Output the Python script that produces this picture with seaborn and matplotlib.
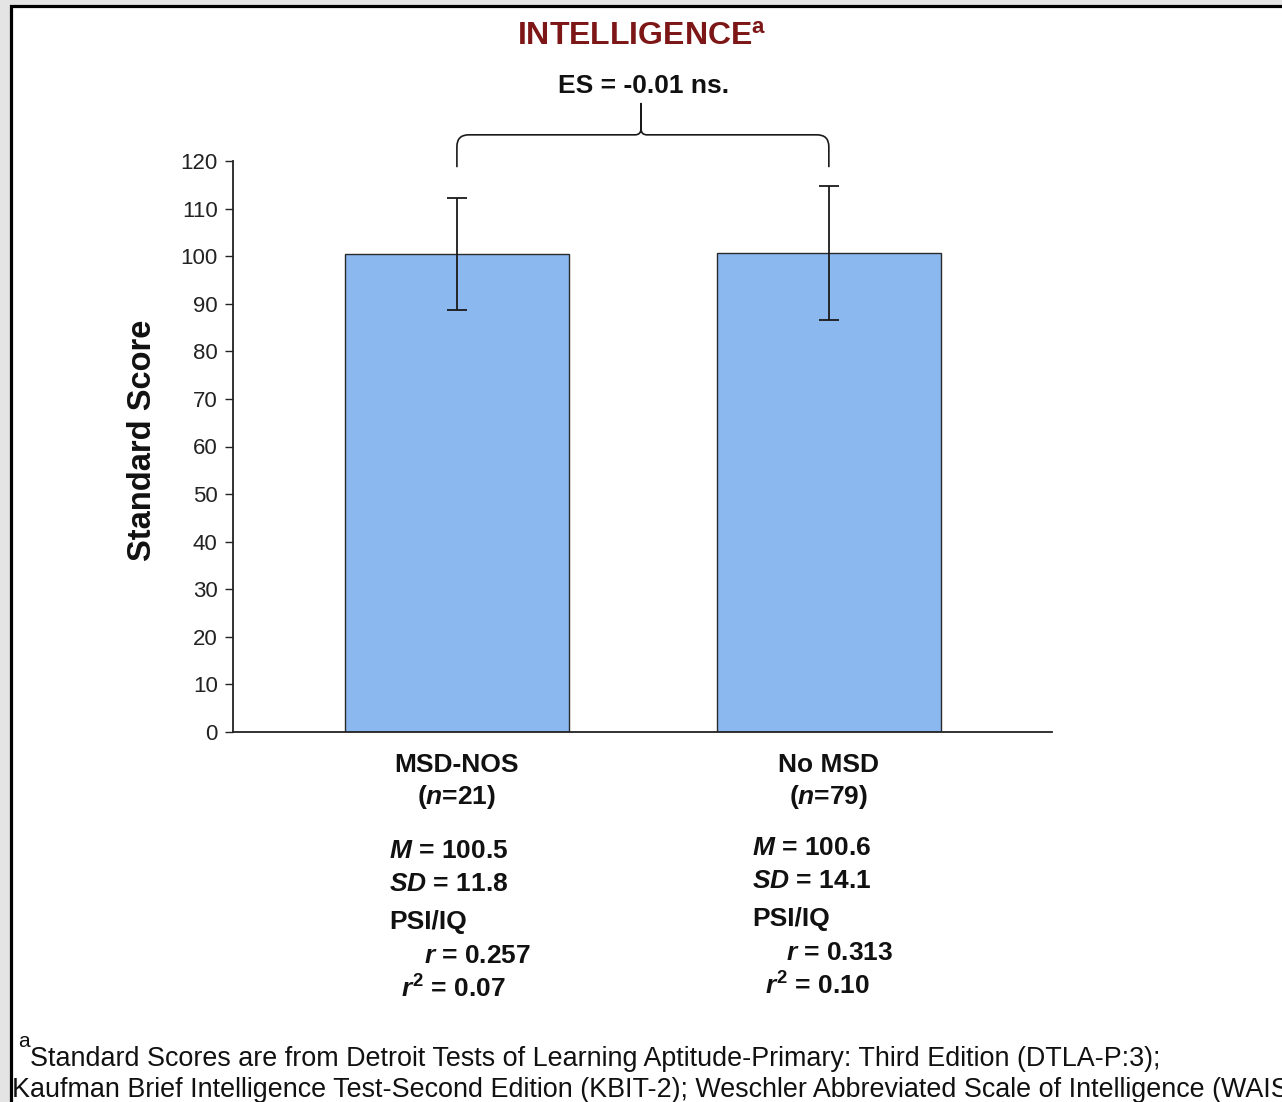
import matplotlib
matplotlib.use("Agg")
import matplotlib.pyplot as plt
import matplotlib.transforms as mtransforms
from matplotlib.path import Path
from matplotlib.patches import PathPatch, Rectangle
from matplotlib import font_manager
import pandas as pd
import seaborn as sns

# ---- data ----
groups = ["MSD-NOS", "No MSD"]
group_n = [21, 79]
means = [100.5, 100.6]
sds = [11.8, 14.1]
psi_iq_r = ["0.257", "0.313"]
psi_iq_r2 = ["0.07", "0.10"]
effect_size = "-0.01 ns."
y_ticks = list(range(0, 121, 10))
title = "INTELLIGENCE"
footnote_lines = [
    "Standard Scores are from Detroit Tests of Learning Aptitude-Primary: Third Edition (DTLA-P:3);",
    "Kaufman Brief Intelligence Test-Second Edition (KBIT-2); Weschler Abbreviated Scale of Intelligence (WAIS).",
]

# ---- style ----
sns.set_style("ticks")
plt.rcParams["font.family"] = ["Liberation Sans", "DejaVu Sans"]
plt.rcParams["mathtext.fontset"] = "custom"
plt.rcParams["mathtext.rm"] = "Liberation Sans:bold"
plt.rcParams["mathtext.bf"] = "Liberation Sans:bold"
plt.rcParams["mathtext.it"] = "Liberation Sans:bold:italic"

installed = {f.name for f in font_manager.fontManager.ttflist}
narrow = "Liberation Sans Narrow" if "Liberation Sans Narrow" in installed else None

BAR = "#8cb8f0"
TITLE_RED = "#7d1616"
INK = "#111111"

W, H = 1282, 1102
fig = plt.figure(figsize=(W / 100, H / 100), dpi=100, facecolor="#e4e4e4")

# white page with a dark frame on the top and left edges
fig.patches.append(Rectangle((11 / W, -0.05), 1.2, 1.05 - 6 / H,
                             transform=fig.transFigure, facecolor="white",
                             edgecolor="black", linewidth=2.3, zorder=-5))


def fy(py):
    return 1 - py / H


ax = fig.add_axes([233 / W, fy(732), (1052 - 233) / W, (732 - 161) / H])
ax.set_facecolor("none")

df = pd.DataFrame({"group": groups, "mean": means})
sns.barplot(data=df, x="group", y="mean", color=BAR, saturation=1,
            edgecolor="#2a2a2a", linewidth=1.0, width=0.602,
            errorbar=None, ax=ax)
ax.errorbar(range(len(groups)), means, yerr=sds, fmt="none",
            ecolor="#1a1a1a", elinewidth=1.3, capsize=7, capthick=1.3, zorder=4)

ax.set_xlim(-0.602, 1.6)
ax.set_ylim(0, 120)
ax.set_yticks(y_ticks)
ax.set_xlabel("")
ax.tick_params(axis="x", length=0, labelbottom=False)
ax.tick_params(axis="y", length=6, width=1.0, pad=5, labelsize=16,
               colors="#222222")
for side in ("top", "right"):
    ax.spines[side].set_visible(False)
for side in ("left", "bottom"):
    ax.spines[side].set_linewidth(1.3)
    ax.spines[side].set_color("#222222")

ax.set_ylabel("Standard Score", fontsize=23.5, fontweight="bold", color=INK)
ax.yaxis.set_label_coords(-0.092, 0.511)

# ---- brace over the two bars ----
x0, x1 = 0, 1
xm = 0.495
y_end, y_h, y_tip = 118.7, 125.5, 132.2
rxe, rye = 0.032, 2.5
rxm, rym = 0.016, 1.3
verts = [
    (x0, y_end), (x0, y_h - rye), (x0, y_h), (x0 + rxe, y_h),
    (xm - rxm, y_h), (xm, y_h), (xm, y_h + rym), (xm, y_tip),
    (xm, y_h + rym), (xm, y_h), (xm + rxm, y_h),
    (x1 - rxe, y_h), (x1, y_h), (x1, y_h - rye), (x1, y_end),
]
codes = [
    Path.MOVETO, Path.LINETO, Path.CURVE3, Path.CURVE3,
    Path.LINETO, Path.CURVE3, Path.CURVE3, Path.LINETO,
    Path.LINETO, Path.CURVE3, Path.CURVE3,
    Path.LINETO, Path.CURVE3, Path.CURVE3, Path.LINETO,
]
ax.add_patch(PathPatch(Path(verts, codes), facecolor="none", edgecolor="#1a1a1a",
                       linewidth=1.2, clip_on=False, zorder=5))

# ---- headings ----
fig.text(642 / W, fy(45), title + r"$^{\mathbf{a}}$", ha="center", va="baseline",
         fontsize=23, fontweight="bold", color=TITLE_RED)
fig.text(644 / W, fy(93), "ES = " + effect_size, ha="center", va="baseline",
         fontsize=19, fontweight="bold", color=INK)

# ---- group labels and statistics under the axis ----
blend = mtransforms.blended_transform_factory(ax.transData, fig.transFigure)
stat_left = [-68, -77]        # px, left edge of stat lines relative to bar centre
r_left = [-33, -43]
r2_left = [-56, -64]
stat_shift = [0, -3]


def at(i, dx_px):
    return blend + mtransforms.ScaledTranslation(dx_px / 100, 0, fig.dpi_scale_trans)


for i, g in enumerate(groups):
    ax.text(i, fy(772), g, transform=blend, ha="center",
            va="baseline", fontsize=19, fontweight="bold", color=INK)
    ax.text(i, fy(804), f"($n$={group_n[i]})", transform=blend,
            ha="center", va="baseline", fontsize=19, fontweight="bold", color=INK)
    s = stat_shift[i]
    ax.text(i, fy(858 + s), f"$M$ = {means[i]}", transform=at(i, stat_left[i]),
            ha="left", va="baseline", fontsize=19, fontweight="bold", color=INK)
    ax.text(i, fy(891 + s), f"$SD$ = {sds[i]}", transform=at(i, stat_left[i]),
            ha="left", va="baseline", fontsize=19, fontweight="bold", color=INK)
    ax.text(i, fy(929 + s), "PSI/IQ", transform=at(i, stat_left[i]),
            ha="left", va="baseline", fontsize=19, fontweight="bold", color=INK)
    ax.text(i, fy(963 + s), f"$r$ = {psi_iq_r[i]}", transform=at(i, r_left[i]),
            ha="left", va="baseline", fontsize=19, fontweight="bold", color=INK)
    ax.text(i, fy(998 + s), f"$r^2$ = {psi_iq_r2[i]}", transform=at(i, r2_left[i]),
            ha="left", va="baseline", fontsize=19, fontweight="bold", color=INK)

# ---- footnote ----
foot_family = [narrow, "Liberation Sans"] if narrow else ["Liberation Sans"]
foot_size = 21 if narrow else 19.4
fig.text(18 / W, fy(1047), "a", ha="left", va="baseline", fontsize=15, color=INK)
fig.text(30 / W, fy(1066), footnote_lines[0], ha="left", va="baseline",
         fontsize=foot_size, family=foot_family, color=INK)
fig.text(12 / W, fy(1097), footnote_lines[1], ha="left", va="baseline",
         fontsize=foot_size, family=foot_family, color=INK)

fig.savefig("out.png", dpi=100, facecolor=fig.get_facecolor())
